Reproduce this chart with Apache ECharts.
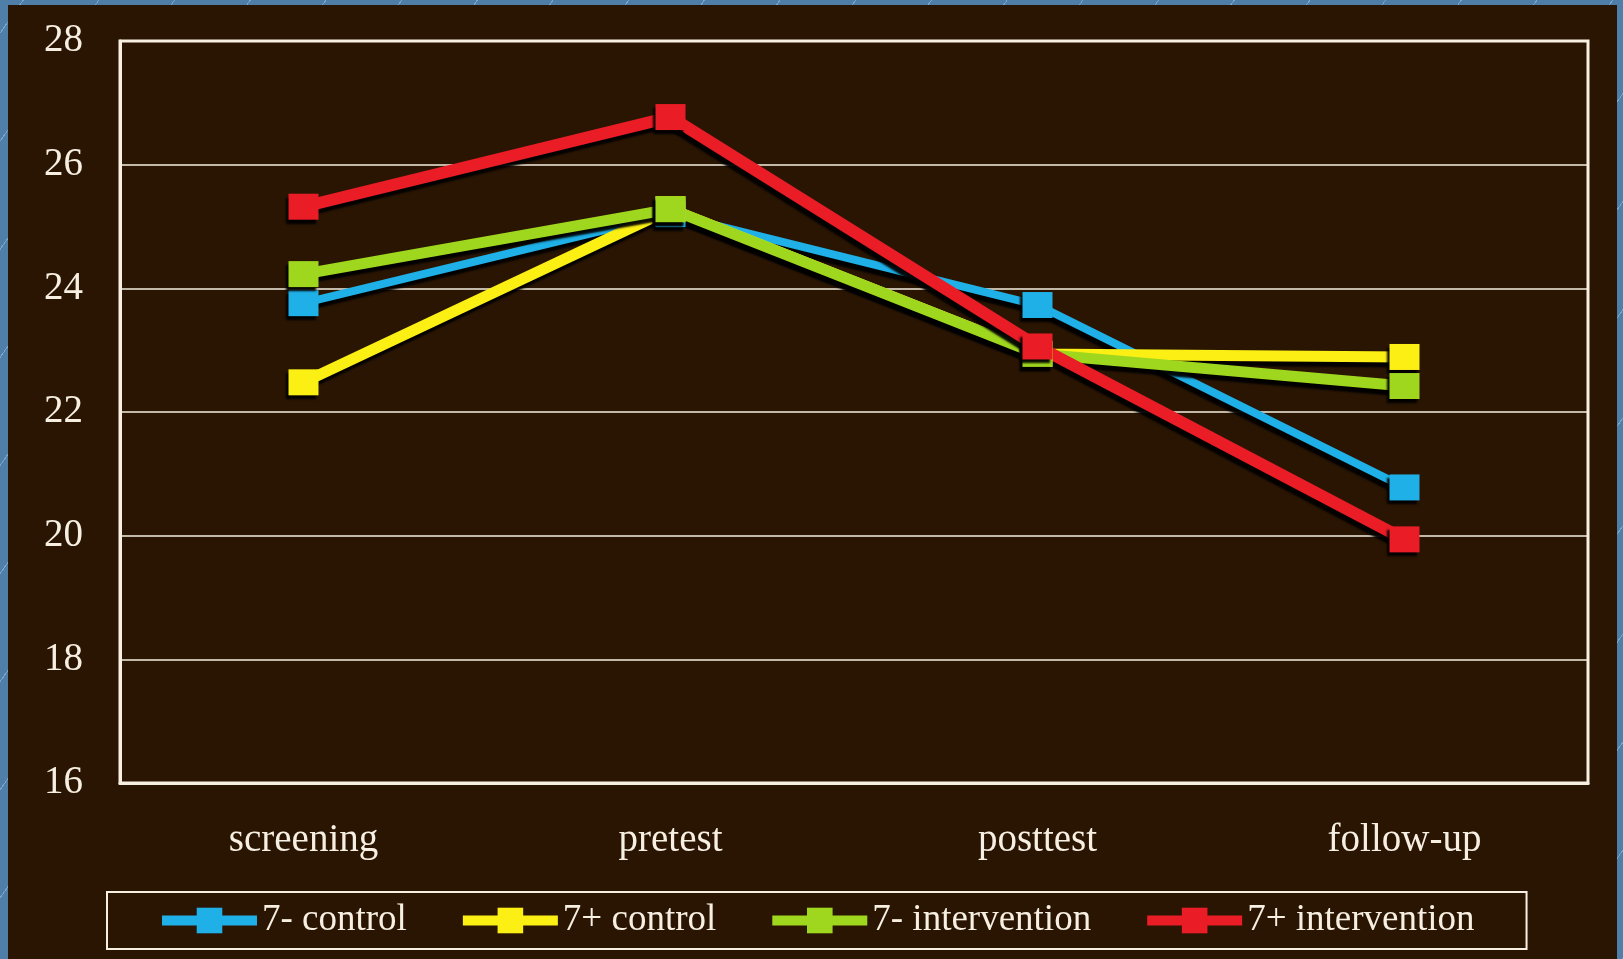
<!DOCTYPE html>
<html>
<head>
<meta charset="utf-8">
<script src="https://cdn.jsdelivr.net/npm/echarts@6/dist/echarts.min.js"></script>
<style>
  html, body { margin: 0; padding: 0; width: 1623px; height: 959px; overflow: hidden; }
  body {
    background-color: #4f7fa9;
    background-image: repeating-linear-gradient(-55deg, rgba(160,200,235,0.55) 0 1px, transparent 1px 62px);
  }
  #panel { position: absolute; left: 8px; top: 5px; width: 1609px; height: 954px; background: #2a1503; }
  #chart { position: absolute; left: 0; top: 0; width: 1623px; height: 959px; }
</style>
</head>
<body>
<div id="panel"></div>
<div id="chart"></div>
<script>
// Measurement phases
const phases = ['screening', 'pretest', 'posttest', 'follow-up'];

// Group means per phase
const control7minus = [23.76, 25.2, 23.73, 20.78];
const control7plus = [22.48, 25.28, 22.94, 22.89];
const intervention7minus = [24.23, 25.28, 22.94, 22.42];
const intervention7plus = [25.32, 26.77, 23.06, 19.94];

const groupNames = ['7- control', '7+ control', '7- intervention', '7+ intervention'];

const ink = '#f7f0e2';
const serif = '"Liberation Serif", "DejaVu Serif", serif';

function lineSeries(name, data, color, width) {
  return {
    name: name,
    type: 'line',
    data: data,
    symbol: 'rect',
    symbolSize: [30, 26],
    z: 3,
    lineStyle: {
      color: color, width: width,
      shadowColor: 'rgba(0,0,0,0.95)', shadowBlur: 2, shadowOffsetX: -3, shadowOffsetY: 5
    },
    itemStyle: {
      color: color, opacity: 1,
      shadowColor: 'rgba(0,0,0,0.95)', shadowBlur: 2, shadowOffsetX: -3, shadowOffsetY: 4
    },
    emphasis: { disabled: true }
  };
}

const chart = echarts.init(document.getElementById('chart'), null, { renderer: 'canvas' });
chart.setOption({
  animation: false,
  backgroundColor: 'transparent',
  grid: {
    left: 120, right: 35, top: 41, bottom: 176,
    show: true, borderColor: ink, borderWidth: 3
  },
  legend: {
    data: groupNames,
    left: 107, top: 892,
    orient: 'horizontal',
    padding: [10, 52, 10, 50],
    itemWidth: 95, itemHeight: 32, itemGap: 51,
    borderColor: ink, borderWidth: 2,
    lineStyle: { width: 10, shadowBlur: 0, shadowOffsetX: 0, shadowOffsetY: 0 },
    itemStyle: { shadowBlur: 0, shadowOffsetX: 0, shadowOffsetY: 0 },
    textStyle: { color: ink, fontFamily: serif, fontSize: 37, padding: [0, 0, 0, 0] }
  },
  xAxis: {
    type: 'category',
    data: phases,
    boundaryGap: true,
    axisLine: { show: true, lineStyle: { color: ink, width: 3 } },
    axisTick: { show: false },
    axisLabel: { color: ink, fontFamily: serif, fontSize: 39, margin: 38 },
    splitLine: { show: false }
  },
  yAxis: {
    type: 'value',
    min: 16, max: 28, interval: 2,
    axisLine: { show: true, lineStyle: { color: ink, width: 3 } },
    axisTick: { show: false },
    axisLabel: { color: ink, fontFamily: serif, fontSize: 39, margin: 37 },
    splitLine: { show: true, lineStyle: { color: ink, width: 1.5 } }
  },
  series: [
    lineSeries(groupNames[0], control7minus, '#1eb0e6', 8),
    lineSeries(groupNames[1], control7plus, '#fbef14', 11),
    lineSeries(groupNames[2], intervention7minus, '#9ed71e', 11),
    lineSeries(groupNames[3], intervention7plus, '#ea1c25', 12)
  ]
});
</script>
</body>
</html>
